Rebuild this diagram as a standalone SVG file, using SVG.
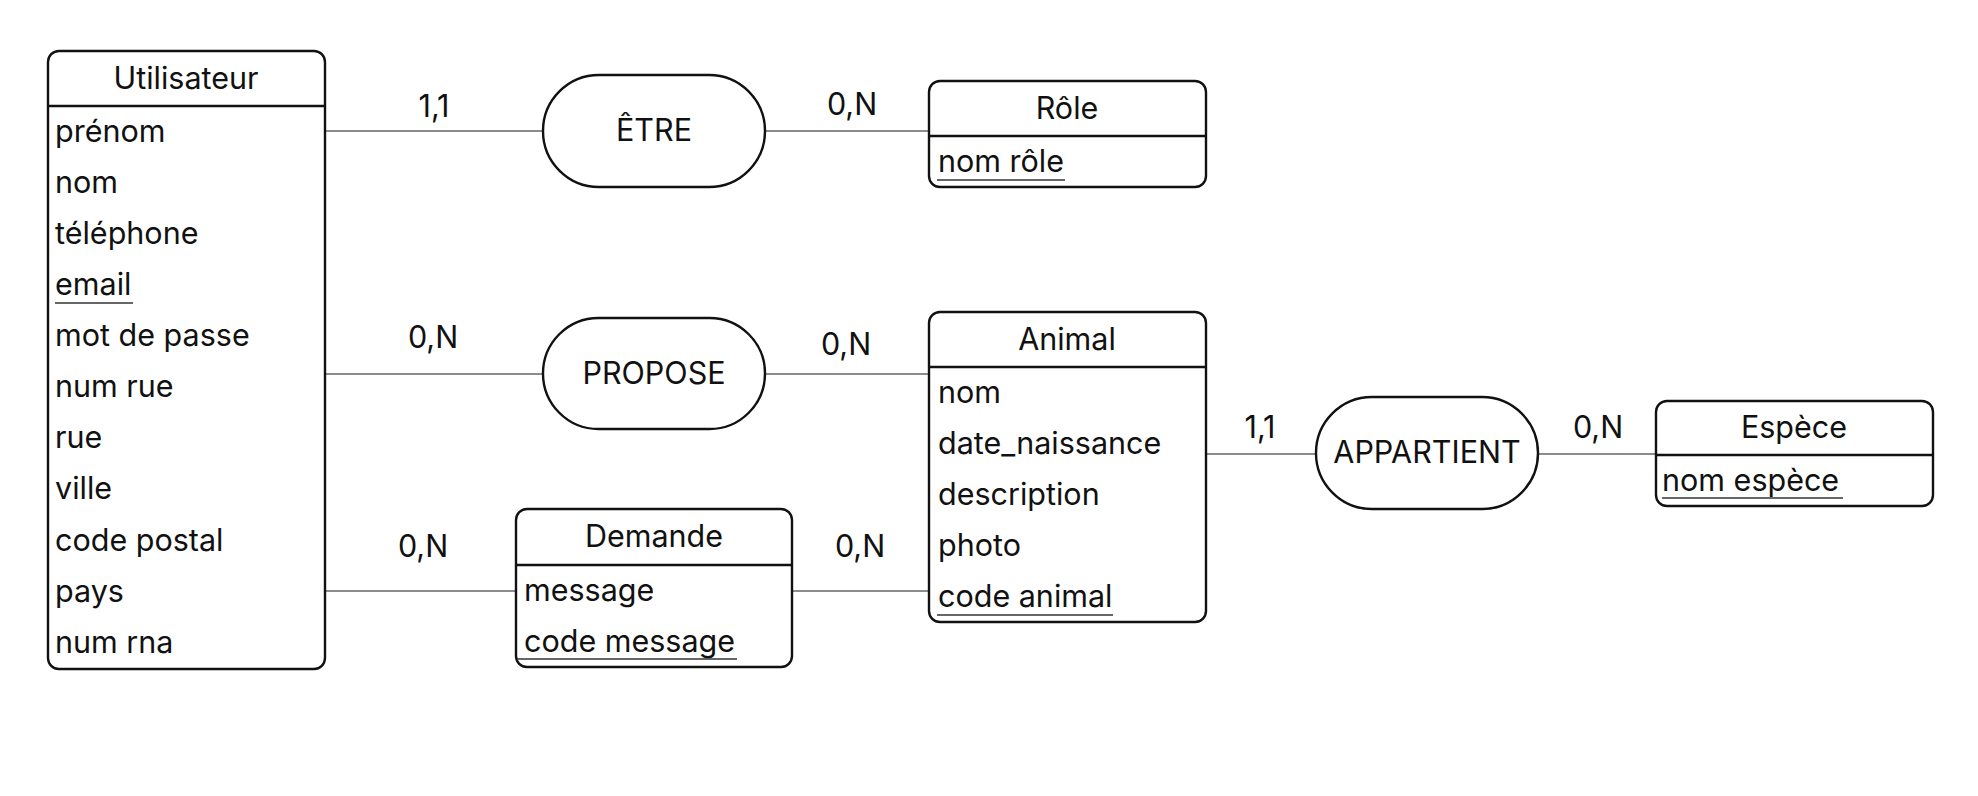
<svg xmlns="http://www.w3.org/2000/svg" width="1978" height="796" viewBox="0 0 1978 796">
<style>
.box{fill:#fff;stroke:#111;stroke-width:2.4}
.sep{stroke:#111;stroke-width:2.4}
.rel{fill:#fff;stroke:#111;stroke-width:2.4}
.con{stroke:#666;stroke-width:1.4;fill:none}
.ul{stroke:#333;stroke-width:1.6}
text{font-family:Inter,"Noto Sans","Liberation Sans",sans-serif;font-size:30.5px;fill:#111}
.c{text-anchor:middle}
</style>
<rect width="1978" height="796" fill="#fff"/>
<g id="connectors">
<line class="con" x1="325" y1="131" x2="543" y2="131"/>
<line class="con" x1="765" y1="131" x2="929" y2="131"/>
<line class="con" x1="325" y1="374" x2="543" y2="374"/>
<line class="con" x1="765" y1="374" x2="929" y2="374"/>
<line class="con" x1="325" y1="591" x2="516" y2="591"/>
<line class="con" x1="792" y1="591" x2="929" y2="591"/>
<line class="con" x1="1206" y1="454" x2="1316" y2="454"/>
<line class="con" x1="1538" y1="454" x2="1656" y2="454"/>
<text class="c" x="434" y="117">1,1</text>
<text class="c" x="852" y="115">0,N</text>
<text class="c" x="433" y="348">0,N</text>
<text class="c" x="846" y="355">0,N</text>
<text class="c" x="423" y="557">0,N</text>
<text class="c" x="860" y="557">0,N</text>
<text class="c" x="1260" y="438">1,1</text>
<text class="c" x="1598" y="438">0,N</text>
</g>
<g id="utilisateur">
<rect class="box" x="48" y="51" width="277" height="618" rx="11"/>
<line class="sep" x1="48" y1="106" x2="325" y2="106"/>
<text class="c" x="186" y="89">Utilisateur</text>
<text x="55" y="142">prénom</text>
<text x="55" y="193">nom</text>
<text x="55" y="244">téléphone</text>
<text x="55" y="295">email</text>
<line class="ul" x1="55" y1="303" x2="133" y2="303"/>
<text x="55" y="346">mot de passe</text>
<text x="55" y="397">num rue</text>
<text x="55" y="448">rue</text>
<text x="55" y="499">ville</text>
<text x="55" y="551">code postal</text>
<text x="55" y="602">pays</text>
<text x="55" y="653">num rna</text>
</g>
<g id="etre">
<rect class="rel" x="543" y="75" width="222" height="112" rx="56"/>
<text class="c" x="654" y="141">ÊTRE</text>
</g>
<g id="role">
<rect class="box" x="929" y="81" width="277" height="106" rx="11"/>
<line class="sep" x1="929" y1="136" x2="1206" y2="136"/>
<text class="c" x="1067" y="119">Rôle</text>
<text x="938" y="172">nom rôle</text>
<line class="ul" x1="937" y1="180" x2="1065" y2="180"/>
</g>
<g id="propose">
<rect class="rel" x="543" y="318" width="222" height="111" rx="55.5"/>
<text class="c" x="654" y="384">PROPOSE</text>
</g>
<g id="animal">
<rect class="box" x="929" y="312" width="277" height="310" rx="11"/>
<line class="sep" x1="929" y1="367" x2="1206" y2="367"/>
<text class="c" x="1067" y="350">Animal</text>
<text x="938" y="403">nom</text>
<text x="938" y="454">date_naissance</text>
<text x="938" y="505">description</text>
<text x="938" y="556">photo</text>
<text x="938" y="607">code animal</text>
<line class="ul" x1="937" y1="615" x2="1113" y2="615"/>
</g>
<g id="demande">
<rect class="box" x="516" y="509" width="276" height="158" rx="11"/>
<line class="sep" x1="516" y1="565" x2="792" y2="565"/>
<text class="c" x="654" y="547">Demande</text>
<text x="524" y="601">message</text>
<text x="524" y="652">code message</text>
<line class="ul" x1="517" y1="659" x2="737" y2="659"/>
</g>
<g id="appartient">
<rect class="rel" x="1316" y="397" width="222" height="112" rx="56"/>
<text class="c" x="1427" y="463">APPARTIENT</text>
</g>
<g id="espece">
<rect class="box" x="1656" y="401" width="277" height="105" rx="11"/>
<line class="sep" x1="1656" y1="455" x2="1933" y2="455"/>
<text class="c" x="1794" y="438">Espèce</text>
<text x="1662" y="491">nom espèce</text>
<line class="ul" x1="1662" y1="498" x2="1843" y2="498"/>
</g>
</svg>
